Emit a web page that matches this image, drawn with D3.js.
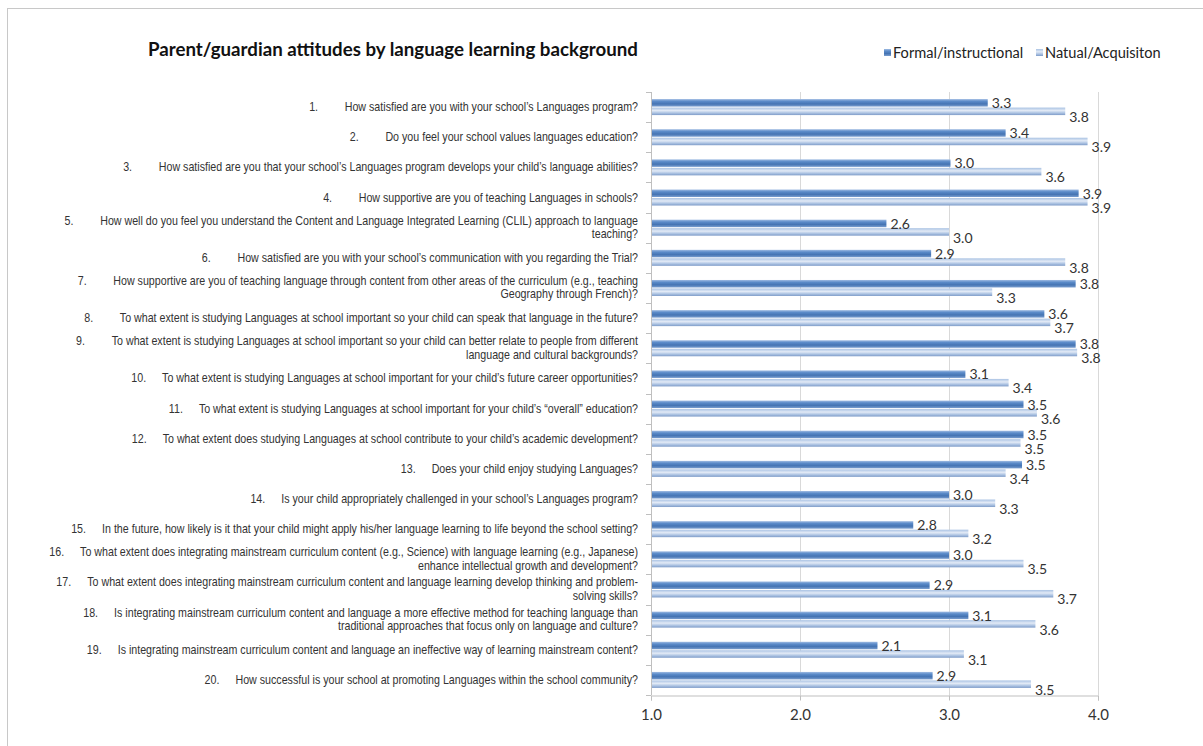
<!DOCTYPE html>
<html>
<head>
<meta charset="utf-8">
<script src="https://cdn.jsdelivr.net/npm/d3@7"></script>
<style>
  body { margin: 0; background: #fff; }
</style>
</head>
<body>
<svg></svg>
<script>
var numbers = ["1.", "2.", "3.", "4.", "5.", "6.", "7.", "8.", "9.", "10.",
  "11.", "12.", "13.", "14.", "15.", "16.", "17.", "18.", "19.", "20."];

var questions = [
  ["How satisfied are you with your school\u2019s Languages program?"],
  ["Do you feel your school values languages education?"],
  ["How satisfied are you that your school\u2019s Languages program develops your child\u2019s language abilities?"],
  ["How supportive are you of teaching Languages in schools?"],
  ["How well do you feel you understand the Content and Language Integrated Learning (CLIL) approach to language", "teaching?"],
  ["How satisfied are you with your school\u2019s communication with you regarding the Trial?"],
  ["How supportive are you of teaching language through content from other areas of the curriculum (e.g., teaching", "Geography through French)?"],
  ["To what extent is studying Languages at school important so your child can speak that language in the future?"],
  ["To what extent is studying Languages at school important so your child can better relate to people from different", "language and cultural backgrounds?"],
  ["To what extent is studying Languages at school important for your child\u2019s future career opportunities?"],
  ["To what extent is studying Languages at school important for your child\u2019s \u201coverall\u201d education?"],
  ["To what extent does studying Languages at school contribute to your child\u2019s academic development?"],
  ["Does your child enjoy studying Languages?"],
  ["Is your child appropriately challenged in your school\u2019s Languages program?"],
  ["In the future, how likely is it that your child might apply his/her language learning to life beyond the school setting?"],
  ["To what extent does integrating mainstream curriculum content (e.g., Science) with language learning (e.g., Japanese)", "enhance intellectual growth and development?"],
  ["To what extent does integrating mainstream curriculum content and language learning develop thinking and problem-", "solving skills?"],
  ["Is integrating mainstream curriculum content and language a more effective method for teaching language than", "traditional approaches that focus only on language and culture?"],
  ["Is integrating mainstream curriculum content and language an ineffective way of learning mainstream content?"],
  ["How successful is your school at promoting Languages within the school community?"]
];

// bar lengths
var formalValues  = [3.26, 3.38, 3.01, 3.87, 2.58, 2.88, 3.85, 3.64, 3.85, 3.11,
  3.50, 3.50, 3.49, 3.00, 2.76, 3.00, 2.87, 3.13, 2.52, 2.89];
var naturalValues = [3.78, 3.93, 3.62, 3.93, 3.00, 3.78, 3.29, 3.68, 3.86, 3.40,
  3.59, 3.48, 3.38, 3.31, 3.13, 3.50, 3.70, 3.58, 3.10, 3.55];

// printed data labels
var formalLabels  = ["3.3", "3.4", "3.0", "3.9", "2.6", "2.9", "3.8", "3.6", "3.8", "3.1",
  "3.5", "3.5", "3.5", "3.0", "2.8", "3.0", "2.9", "3.1", "2.1", "2.9"];
var naturalLabels = ["3.8", "3.9", "3.6", "3.9", "3.0", "3.8", "3.3", "3.7", "3.8", "3.4",
  "3.6", "3.5", "3.4", "3.3", "3.2", "3.5", "3.7", "3.6", "3.1", "3.5"];

var seriesNames = ["Formal/instructional", "Natual/Acquisiton"];
var xTicks = [1, 2, 3, 4];

var width = 1203,
	height = 746;
var svg = d3.select("svg")
			.attr("width", width)
			.attr("height", height);

var plotLeft = 651, plotRight = 1098, plotTop = 92, plotBottom = 695;

var x = d3.scaleLinear().domain([1, 4]).range([plotLeft, plotRight]);
var y = d3.scaleBand().domain(d3.range(numbers.length)).range([plotTop, plotBottom]);

// gradients for the glossy bars
var defs = svg.append("defs");
var g1 = defs.append("linearGradient").attr("id", "gFormal")
	.attr("x1", 0).attr("y1", 0).attr("x2", 0).attr("y2", 1);
g1.append("stop").attr("offset", "0%").attr("stop-color", "#9fbbe2");
g1.append("stop").attr("offset", "30%").attr("stop-color", "#5b8bc9");
g1.append("stop").attr("offset", "65%").attr("stop-color", "#4574b3");
g1.append("stop").attr("offset", "100%").attr("stop-color", "#7b9fd0");
var g2 = defs.append("linearGradient").attr("id", "gNatural")
	.attr("x1", 0).attr("y1", 0).attr("x2", 0).attr("y2", 1);
g2.append("stop").attr("offset", "0%").attr("stop-color", "#a9c2e3");
g2.append("stop").attr("offset", "40%").attr("stop-color", "#e2eaf6");
g2.append("stop").attr("offset", "75%").attr("stop-color", "#a7bfe0");
g2.append("stop").attr("offset", "100%").attr("stop-color", "#7f9cc8");

// outer frame
svg.append("rect")
	.attr("x", 7.5).attr("y", 8.5)
	.attr("width", 1220).attr("height", 760)
	.attr("fill", "none")
	.attr("stroke", "#c8c8c8");

// title
svg.append("text")
	.attr("x", 148).attr("y", 56)
	.style("font-family", "Lato, 'Open Sans', sans-serif")
	.style("font-weight", "bold")
	.style("font-size", "18.7px")
	.style("fill", "#111")
	.text("Parent/guardian attitudes by language learning background");

// legend
var legend = svg.append("g").attr("transform", "translate(884,53)");
var legendX = [0, 152];
seriesNames.forEach(function(name, i) {
	legend.append("rect")
		.attr("x", legendX[i]).attr("y", -4)
		.attr("width", 7).attr("height", 7)
		.attr("fill", i == 0 ? "url(#gFormal)" : "url(#gNatural)");
	legend.append("text")
		.attr("x", legendX[i] + 9).attr("y", 5)
		.style("font-family", "Lato, sans-serif")
		.style("font-size", "14.6px")
		.style("fill", "#222")
		.text(name);
});

// gridlines
svg.append("g").selectAll("line")
	.data(xTicks.slice(1))
	.enter()
	.append("line")
	.attr("x1", function(d) { return x(d) + 0.5; })
	.attr("x2", function(d) { return x(d) + 0.5; })
	.attr("y1", plotTop).attr("y2", plotBottom)
	.attr("stroke", "#d9d9d9");

// bottom axis
var xAxis = d3.axisBottom(x).tickValues(xTicks).tickFormat(d3.format(".1f")).tickSize(5);
var gx = svg.append("g").attr("transform", "translate(0," + (plotBottom + 0.5) + ")").call(xAxis);
gx.select(".domain").attr("stroke", "#bfbfbf");
gx.selectAll(".tick line").attr("stroke", "#bfbfbf");
gx.selectAll("text")
	.attr("y", 14)
	.style("font-family", "Lato, sans-serif")
	.style("font-size", "15px")
	.style("fill", "#333");

// left axis line with category ticks
svg.append("line")
	.attr("x1", plotLeft + 0.5).attr("x2", plotLeft + 0.5)
	.attr("y1", plotTop).attr("y2", plotBottom)
	.attr("stroke", "#bfbfbf");
svg.append("g").selectAll("line")
	.data(d3.range(numbers.length + 1))
	.enter()
	.append("line")
	.attr("x1", plotLeft - 5).attr("x2", plotLeft)
	.attr("y1", function(d) { return Math.round(plotTop + d * y.step()) + 0.5; })
	.attr("y2", function(d) { return Math.round(plotTop + d * y.step()) + 0.5; })
	.attr("stroke", "#bfbfbf");

// bars
var barH = 7.5;
var rows = svg.append("g").selectAll("g")
	.data(numbers)
	.enter()
	.append("g")
	.attr("transform", function(d, i) { return "translate(0," + (y(i) + y.bandwidth() / 2) + ")"; });

rows.append("rect")
	.attr("x", plotLeft + 1)
	.attr("y", -barH - 0.5)
	.attr("height", barH)
	.attr("width", function(d, i) { return x(formalValues[i]) - plotLeft - 1; })
	.attr("fill", "url(#gFormal)");

rows.append("rect")
	.attr("x", plotLeft + 1)
	.attr("y", 0.5)
	.attr("height", barH)
	.attr("width", function(d, i) { return x(naturalValues[i]) - plotLeft - 1; })
	.attr("fill", "url(#gNatural)");

// data labels
var labelFont = "Lato, sans-serif";
rows.append("text")
	.attr("x", function(d, i) { return x(formalValues[i]) + 4; })
	.attr("y", 1)
	.style("font-family", labelFont)
	.style("font-size", "14px")
	.style("fill", "#333")
	.text(function(d, i) { return formalLabels[i]; });

rows.append("text")
	.attr("x", function(d, i) { return x(naturalValues[i]) + 4; })
	.attr("y", 15)
	.style("font-family", labelFont)
	.style("font-size", "14px")
	.style("fill", "#333")
	.text(function(d, i) { return naturalLabels[i]; });

// category labels (number, tab, question), narrow face made by squeezing Liberation Sans
var catFont = "'Liberation Sans', Arial, sans-serif";
var squeeze = 0.89;
rows.each(function(d, i) {
	var lines = questions[i];
	var g = d3.select(this);
	var gap = d.length > 2 ? 18 : 30;
	var y0 = lines.length == 1 ? 4 : -3;
	var lab = g.append("g")
		.attr("transform", "translate(638,0) scale(" + squeeze + ",1)")
		.style("font-family", catFont)
		.style("font-size", "12px")
		.style("fill", "#333");
	var t = lab.append("text")
		.attr("x", 0).attr("y", y0)
		.attr("text-anchor", "end");
	t.append("tspan").text(d);
	t.append("tspan").attr("dx", gap).text(lines[0]);
	if (lines.length > 1) {
		lab.append("text")
			.attr("x", 0).attr("y", y0 + 13.5)
			.attr("text-anchor", "end")
			.text(lines[1]);
	}
});
</script>
</body>
</html>
